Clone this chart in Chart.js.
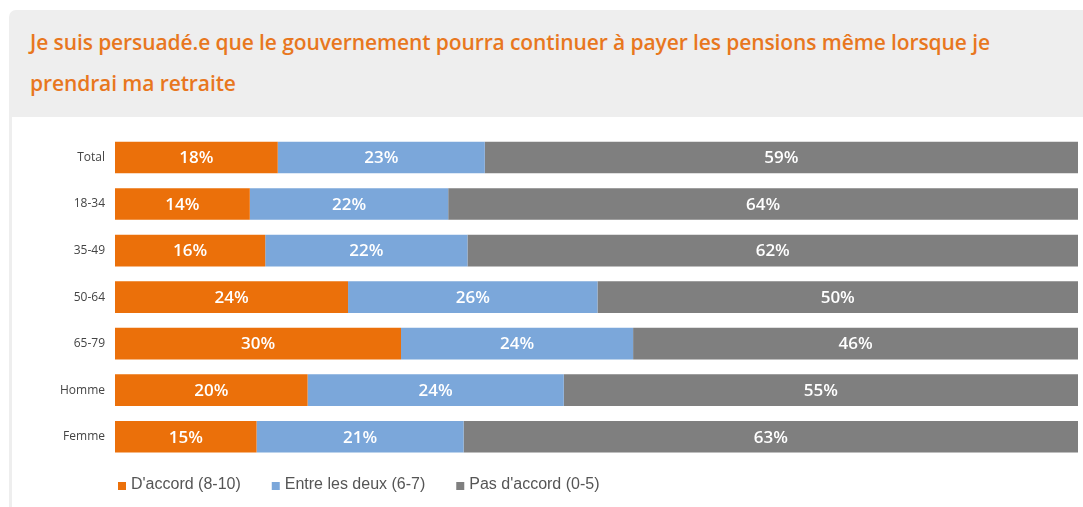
<!DOCTYPE html>
<html>
<head>
<meta charset="utf-8">
<script src="https://cdn.jsdelivr.net/npm/chart.js@4.4.1/dist/chart.umd.min.js"></script>
<style>
  html, body { margin: 0; padding: 0; background: #ffffff; }
  body { width: 1083px; height: 507px; position: relative; overflow: hidden; }
  #panneau { position: absolute; left: 9px; top: 10px; width: 1074px; height: 497px; background: #eeeeee; border-top-left-radius: 7px; }
  #titre { position: absolute; left: 30px; top: 22px; width: 1050px; margin: 0; color: #e8771e;
           font-family: "Open Sans", sans-serif; font-weight: 600; font-size: 21px; line-height: 41px; letter-spacing: -0.1px; }
  #zone { position: absolute; left: 12px; top: 117px; width: 1071px; height: 390px; background: #ffffff; }
  #graphe { position: absolute; left: 0; top: 117px; }
</style>
</head>
<body>
<div id="panneau"></div>
<div id="titre">Je suis persuadé.e que le gouvernement pourra continuer à payer les pensions même lorsque je<br>prendrai ma retraite</div>
<div id="zone"></div>
<canvas id="graphe" width="1083" height="390"></canvas>
<script>
var categories = ["Total", "18-34", "35-49", "50-64", "65-79", "Homme", "Femme"];
var noms = ["D'accord (8-10)", "Entre les deux (6-7)", "Pas d'accord (0-5)"];
var couleurs = ["#eb700a", "#7ba7da", "#7f7f7f"];

// longueurs des barres
var daccord = [16.9, 14.0, 15.6, 24.2, 29.7, 20.0, 14.7];
var entreDeux = [21.5, 20.6, 21.0, 25.9, 24.1, 26.6, 21.5];
var pasDaccord = [61.6, 65.4, 63.4, 49.9, 46.2, 53.4, 63.8];

// pourcentages affichés
var etiqDaccord = ["18%", "14%", "16%", "24%", "30%", "20%", "15%"];
var etiqEntreDeux = ["23%", "22%", "22%", "26%", "24%", "24%", "21%"];
var etiqPasDaccord = ["59%", "64%", "62%", "50%", "46%", "55%", "63%"];

var etiquettes = [etiqDaccord, etiqEntreDeux, etiqPasDaccord];

var pluginEtiquettes = {
    id: "etiquettes",
    afterDatasetsDraw: function(chart) {
        var ctx = chart.ctx;
        ctx.save();
        ctx.fillStyle = "#ffffff";
        ctx.font = "600 17px 'Open Sans', sans-serif";
        ctx.textAlign = "center";
        ctx.textBaseline = "middle";
        chart.data.datasets.forEach(function(ds, d) {
            var meta = chart.getDatasetMeta(d);
            meta.data.forEach(function(barre, i) {
                var centre = barre.getCenterPoint();
                ctx.fillText(etiquettes[d][i], centre.x, centre.y + 1);
            });
        });
        ctx.restore();
    }
};

var pluginLegende = {
    id: "legende",
    afterDraw: function(chart) {
        var ctx = chart.ctx;
        var x = chart.chartArea.left + 3;
        var y = chart.chartArea.bottom + 25;
        ctx.save();
        ctx.font = "16px 'Liberation Sans', Arial, sans-serif";
        ctx.textBaseline = "middle";
        ctx.textAlign = "left";
        chart.data.datasets.forEach(function(ds) {
            ctx.fillStyle = ds.backgroundColor;
            ctx.fillRect(x, y - 3, 8, 8);
            ctx.fillStyle = "#555555";
            ctx.fillText(ds.label, x + 13, y);
            x += 13 + ctx.measureText(ds.label).width + 31;
        });
        ctx.restore();
    }
};

var jeux = [daccord, entreDeux, pasDaccord].map(function(valeurs, k) {
    return {
        label: noms[k],
        data: valeurs,
        backgroundColor: couleurs[k],
        borderWidth: 0,
        categoryPercentage: 1,
        barPercentage: 0.68
    };
});

new Chart(document.getElementById("graphe").getContext("2d"), {
    type: "bar",
    data: { labels: categories, datasets: jeux },
    options: {
        indexAxis: "y",
        responsive: false,
        animation: false,
        layout: { padding: { top: 13, right: 5, bottom: 47, left: 0 } },
        plugins: { legend: { display: false }, tooltip: { enabled: false } },
        scales: {
            x: { stacked: true, min: 0, max: 100, display: false },
            y: {
                stacked: true,
                grid: { display: false, drawTicks: false },
                border: { display: false },
                afterFit: function(scale) { scale.width = 115; },
                ticks: {
                    color: "#444444",
                    padding: 10,
                    font: { family: "'Open Sans', sans-serif", size: 12 }
                }
            }
        }
    },
    plugins: [pluginEtiquettes, pluginLegende]
});
</script>
</body>
</html>
